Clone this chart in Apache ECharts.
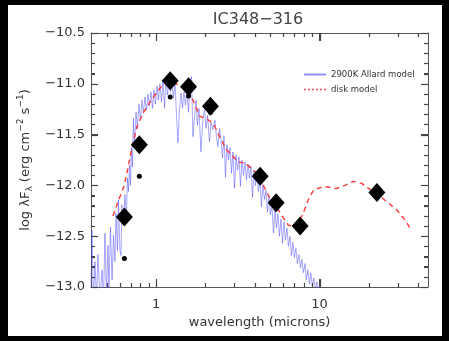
<!DOCTYPE html>
<html><head><meta charset="utf-8">
<script src="https://cdn.jsdelivr.net/npm/echarts/dist/echarts.min.js"></script>
<style>
html,body{margin:0;padding:0;background:#000;width:449px;height:341px;overflow:hidden}
#c{position:absolute;left:8px;top:5px;width:434px;height:331px;background:#fff}
</style></head><body><div id="c"></div>
<script>
// Photometry (dereddened, large diamonds) - wavelength in microns, log lambda F_lambda
const photWave = [0.64, 0.79, 1.22, 1.58, 2.15, 4.33, 5.42, 7.6, 22.4];
const photFlux = [-12.31, -11.60, -10.97, -11.03, -11.22, -11.91, -12.17, -12.40, -12.07];
// Observed photometry (small dots)
const obsWave = [0.64, 0.79, 1.22, 1.58, 2.15];
const obsFlux = [-12.72, -11.91, -11.13, -11.12, -11.28];
// Disk model (red dashed)
const diskWave = [0.545,0.585,0.636,0.673,0.712,0.764,0.832,0.918,1.013,1.10,1.216,1.305,1.45,1.545,1.658,1.856,2.0,2.15,2.29,2.46,2.70,2.97,3.18,3.50,3.75,4.32,4.53,4.97,5.59,6.00,6.44,6.91,7.27,7.95,8.53,9.15,10.5,12.7,14.3,16.1,18.1,19.9,22.4,25.7,29.6,33.3,35.7];
const diskFlux = [-12.30,-12.16,-12.01,-11.83,-11.63,-11.42,-11.29,-11.18,-11.08,-11.01,-10.98,-11.00,-11.02,-11.04,-11.14,-11.32,-11.34,-11.37,-11.42,-11.53,-11.65,-11.72,-11.77,-11.78,-11.82,-11.91,-12.00,-12.13,-12.24,-12.32,-12.39,-12.41,-12.39,-12.27,-12.14,-12.05,-12.01,-12.03,-12.00,-11.96,-11.98,-12.03,-12.08,-12.16,-12.24,-12.34,-12.42];
// 2900K Allard model spectrum (blue)
const starWave = [0.400,0.405,0.414,0.423,0.432,0.441,0.454,0.467,0.477,0.487,0.497,0.508,0.515,0.526,0.538,0.549,0.560,0.569,0.581,0.589,0.601,0.610,0.618,0.632,0.645,0.659,0.669,0.678,0.688,0.697,0.707,0.717,0.727,0.738,0.754,0.769,0.786,0.803,0.820,0.837,0.855,0.874,0.892,0.911,0.931,0.951,0.971,0.992,1.013,1.034,1.056,1.079,1.102,1.126,1.150,1.174,1.199,1.225,1.251,1.278,1.305,1.333,1.361,1.390,1.420,1.450,1.481,1.513,1.545,1.578,1.612,1.646,1.681,1.717,1.754,1.791,1.829,1.880,1.935,1.977,2.020,2.063,2.122,2.168,2.229,2.292,2.341,2.391,2.442,2.494,2.547,2.602,2.657,2.714,2.772,2.831,2.891,2.953,3.016,3.080,3.146,3.213,3.281,3.351,3.423,3.498,3.571,3.647,3.725,3.804,3.886,3.968,4.053,4.139,4.227,4.321,4.410,4.503,4.600,4.697,4.797,4.899,5.004,5.110,5.219,5.337,5.446,5.562,5.681,5.802,5.925,6.051,6.180,6.312,6.446,6.592,6.724,6.868,7.014,7.163,7.316,7.471,7.630,7.793,7.959,8.141,8.30,8.48,8.66,8.84,9.03,9.22,9.42,9.62,9.82,10.06,10.27];
const starFlux = [-13.13,-12.44,-13.13,-12.75,-13.13,-12.68,-13.13,-12.83,-13.13,-12.47,-13.08,-12.59,-13.05,-12.41,-12.93,-12.49,-12.75,-12.27,-12.64,-12.14,-12.64,-12.69,-12.19,-12.39,-12.09,-12.29,-11.93,-12.06,-11.80,-12.00,-11.63,-11.82,-11.34,-11.60,-11.28,-11.44,-11.20,-11.36,-11.16,-11.29,-11.13,-11.26,-11.10,-11.22,-11.08,-11.24,-11.06,-11.20,-11.02,-11.16,-11.00,-11.18,-10.97,-11.24,-10.96,-11.11,-10.98,-11.08,-11.01,-11.14,-10.99,-11.31,-11.58,-11.26,-11.09,-11.24,-11.08,-11.21,-11.06,-11.28,-10.98,-10.93,-11.52,-11.34,-11.16,-11.41,-11.24,-11.67,-11.34,-11.26,-11.44,-11.31,-11.57,-11.38,-11.45,-11.36,-11.53,-11.62,-11.44,-11.55,-11.73,-11.51,-11.92,-11.60,-11.75,-11.63,-11.88,-11.67,-12.03,-11.70,-11.85,-11.72,-12.01,-11.75,-11.90,-11.77,-11.95,-11.79,-11.93,-11.81,-12.12,-11.85,-12.00,-11.89,-12.06,-11.93,-12.21,-11.99,-12.14,-12.05,-12.26,-12.10,-12.29,-12.18,-12.47,-12.24,-12.42,-12.28,-12.50,-12.33,-12.57,-12.36,-12.54,-12.42,-12.60,-12.50,-12.69,-12.56,-12.71,-12.62,-12.77,-12.68,-12.81,-12.73,-12.86,-12.77,-12.93,-12.83,-12.97,-12.86,-13.00,-12.91,-13.03,-12.95,-13.05,-12.99,-13.08];
// Axis ticks
const xRange = [0.4, 46];
const xMajorTicks = [1, 10];
const xMinorTicks = [0.5,0.6,0.7,0.8,0.9,2,3,4,5,6,7,8,9,20,30,40];
const yRange = [-13.0, -10.5];
const yStep = 0.5;
const yMajorTicks = [-13.0, -12.5, -12.0, -11.5, -11.0, -10.5];
const yMinorTicks = [-12.9,-12.8,-12.7,-12.6,-12.4,-12.3,-12.2,-12.1,-11.9,-11.8,-11.7,-11.6,-11.4,-11.3,-11.2,-11.1,-10.9,-10.8,-10.7,-10.6];

const L = Math.log10;
const pairs = (ws, fs) => ws.map((w, i) => [L(w), fs[i]]);
const axisCol = '#555';
const tickCol = '#444';
const FONT = 'DejaVu Sans';
const lx = L(xRange[0]), hx = L(xRange[1]);

// tick marks: [value, length(px), 0 = x axis / 1 = y axis]
const tickData = []
  .concat(xMajorTicks.map(t => [L(t), 8, 0]))
  .concat(xMinorTicks.map(t => [L(t), 4, 0]))
  .concat(yMajorTicks.map(t => [t, 7, 1]))
  .concat(yMinorTicks.map(t => [t, 4, 1]));

function tickItem(params, api) {
  const d = tickData[params.dataIndex];
  const v = d[0], len = d[1], ax = d[2];
  const st = {stroke: tickCol, lineWidth: 1.2, fill: null};
  if (ax === 0) {
    const b = api.coord([v, yRange[0]]), t = api.coord([v, yRange[1]]);
    const x = Math.round(b[0]) + 0.5;
    return {type: 'group', children: [
      {type: 'line', shape: {x1: x, y1: b[1], x2: x, y2: b[1] - len}, style: Object.assign({}, st)},
      {type: 'line', shape: {x1: x, y1: t[1], x2: x, y2: t[1] + len}, style: Object.assign({}, st)}
    ]};
  }
  const l = api.coord([lx, v]), r = api.coord([hx, v]);
  const y = Math.round(l[1]) + 0.5;
  return {type: 'group', children: [
    {type: 'line', shape: {x1: l[0], y1: y, x2: l[0] + len, y2: y}, style: Object.assign({}, st)},
    {type: 'line', shape: {x1: r[0], y1: y, x2: r[0] - len, y2: y}, style: Object.assign({}, st)}
  ]};
}

function xAx(pos, labels) {
  const a = {
    type: 'value', position: pos, min: lx, max: hx,
    axisLine: {show: true, onZero: false, lineStyle: {color: axisCol, width: 1}},
    axisTick: {show: true, inside: true, length: 8, customValues: xMajorTicks.map(L), lineStyle: {color: tickCol, width: 1}},
    axisLabel: {show: false},
    splitLine: {show: false}
  };
  if (labels) {
    a.axisLabel = {show: true, customValues: xMajorTicks.map(L), margin: 11, color: '#333', fontSize: 13, fontFamily: FONT,
      formatter: v => String(Math.round(Math.pow(10, v)))};
    a.name = 'wavelength (microns)';
    a.nameLocation = 'middle';
    a.nameGap = 28;
    a.nameTextStyle = {fontSize: 13, color: '#333', fontFamily: FONT};
  }
  return a;
}
function yAx(pos, labels) {
  const a = {
    type: 'value', position: pos, min: yRange[0], max: yRange[1], interval: yStep,
    axisLine: {show: true, onZero: false, lineStyle: {color: axisCol, width: 1}},
    axisTick: {show: true, inside: true, length: 7, lineStyle: {color: tickCol, width: 1}},
    minorTick: {show: true, splitNumber: 5, length: 4, lineStyle: {color: tickCol, width: 1}},
    axisLabel: {show: false},
    splitLine: {show: false}
  };
  if (labels) {
    a.axisLabel = {show: true, margin: 6, color: '#333', fontSize: 13, fontFamily: FONT,
      formatter: v => v.toFixed(1).replace('-', '\u2212')};
    a.name = 'log \u03bbF{sub|\u03bb} (erg cm{sup|\u22122} s{sup|\u22121})';
    a.nameLocation = 'middle';
    a.nameRotate = 90;
    a.nameGap = 53;
    a.nameTextStyle = {fontSize: 13, color: '#333', fontFamily: FONT, lineHeight: 18,
      rich: {
        sub: {fontSize: 9, color: '#333', fontFamily: FONT, verticalAlign: 'bottom', lineHeight: 18},
        sup: {fontSize: 9, color: '#333', fontFamily: FONT, verticalAlign: 'top', lineHeight: 18}
      }};
  }
  return a;
}

const chart = echarts.init(document.getElementById('c'), null, {renderer: 'canvas'});
chart.setOption({
  animation: false,
  backgroundColor: '#fff',
  title: {text: 'IC348\u2212316', left: 250, top: 7, textAlign: 'center', padding: 0,
    textStyle: {fontSize: 16, fontWeight: 'normal', color: '#444', fontFamily: FONT}},
  grid: {left: 83, top: 28, width: 337, height: 254, containLabel: false, outerBoundsMode: 'none'},
  legend: {orient: 'vertical', left: 290, top: 60, itemWidth: 22, itemHeight: 8, itemGap: 6,
    itemStyle: {opacity: 0},
    textStyle: {fontSize: 8.5, color: '#333', fontFamily: FONT},
    data: [{name: '2900K Allard model', itemStyle: {opacity: 0}},
           {name: 'disk model', itemStyle: {opacity: 0}, lineStyle: {type: [2, 2], width: 1.5, color: '#ff5050'}}]},
  xAxis: [xAx('bottom', true), xAx('top', false)],
  yAxis: [yAx('left', true), yAx('right', false)],
  series: [
    {name: '2900K Allard model', type: 'line', data: pairs(starWave, starFlux), symbol: 'none',
      lineStyle: {color: 'rgba(70,70,255,0.6)', width: 0.8}, itemStyle: {color: '#5050ff'}, z: 2, silent: true},
    {name: 'disk model', type: 'line', data: pairs(diskWave, diskFlux), symbol: 'none',
      lineStyle: {color: '#ff3535', width: 1.4, type: [5, 4]}, itemStyle: {color: '#ff3535'}, z: 3, silent: true},
    {name: 'photometry', type: 'scatter', data: pairs(photWave, photFlux), symbol: 'diamond',
      symbolSize: [17, 19], itemStyle: {color: '#000', opacity: 1}, z: 4, silent: true},
    {name: 'observed', type: 'scatter', data: pairs(obsWave, obsFlux), symbol: 'circle',
      symbolSize: 5, itemStyle: {color: '#000', opacity: 1}, z: 5, silent: true},
    {name: 'ticks', type: 'custom', data: tickData.map((d, i) => [lx, yRange[0], i]), renderItem: tickItem, z: 6, silent: true, clip: false}
  ]
});
</script></body></html>
